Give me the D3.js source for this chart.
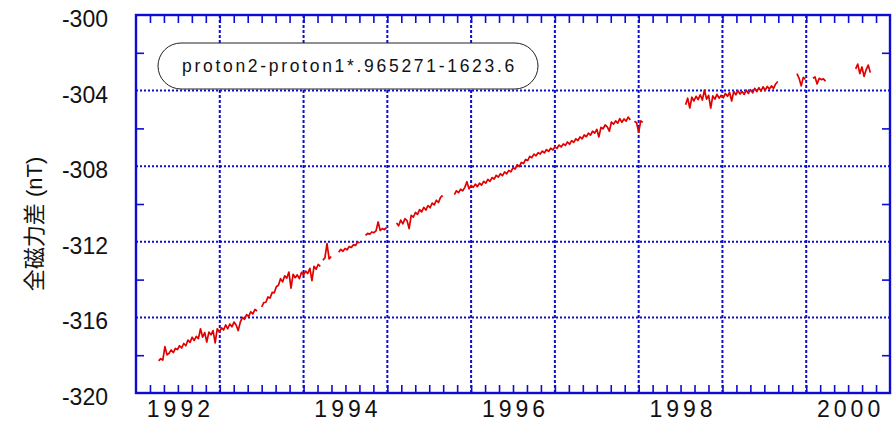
<!DOCTYPE html>
<html lang="ja">
<head>
<meta charset="utf-8">
<title>全磁力差</title>
<style type="text/css">
  body { margin: 0; background: #fff; }
  svg { display: block; font-family: "Liberation Sans", Arial, "Noto Sans CJK JP", sans-serif; }
</style>
</head>
<body>
<div id="chart"></div>
<script src="https://cdnjs.cloudflare.com/ajax/libs/d3/7.8.5/d3.min.js"></script>
<script type="text/javascript">
// daily-ish samples, one every 0.025 yr, split where the record has gaps
var step = 0.025;
var segStarts = [1991.77, 1993.00, 1993.73, 1993.92, 1994.24, 1994.61, 1995.30, 1997.45, 1998.06, 1999.39, 1999.58, 2000.09];

var seg1 = [-318.30, -318.18, -318.26, -317.55, -317.98, -317.90, -317.72, -317.86, -317.64, -317.70,
  -317.50, -317.62, -317.38, -317.50, -317.20, -317.32, -317.05, -317.22, -317.00, -317.12,
  -316.60, -317.05, -316.80, -317.30, -316.78, -316.92, -316.70, -317.35, -316.60, -316.78,
  -316.55, -316.66, -316.40, -316.60, -316.35, -316.50, -316.25, -316.40, -316.70, -316.25,
  -316.00, -316.10, -315.85, -315.95, -315.70, -315.82, -315.58, -315.66];
var seg2 = [-315.45, -315.22, -315.20, -314.92, -314.98, -314.68, -314.70, -314.38, -314.30, -313.95,
  -314.12, -313.80, -313.92, -313.60, -314.45, -313.72, -313.90, -313.75, -313.95, -313.62,
  -313.75, -313.55, -313.68, -313.40, -314.05, -313.30, -313.45, -313.20, -313.30];
var seg3 = [-312.98, -312.85, -312.10, -312.90, -312.78];
var seg4 = [-312.55, -312.40, -312.50, -312.35, -312.42, -312.25, -312.30, -312.15, -312.20, -312.02, -312.05];
var seg5 = [-311.66, -311.55, -311.60, -311.48, -311.52, -311.42, -310.95, -311.40, -311.30, -311.36, -311.25];
var seg6 = [-311.00, -311.15, -310.85, -311.05, -310.78, -310.88, -311.30, -310.60, -310.70, -310.45,
  -310.55, -310.30, -310.42, -310.18, -310.32, -310.08, -310.20, -309.95, -310.05, -309.80,
  -309.92, -309.65, -309.55];
var seg7 = [-309.50, -309.30, -309.40, -309.22, -309.30, -309.12, -308.82, -309.20, -309.02, -309.12,
  -308.95, -309.08, -308.90, -309.00, -308.80, -308.90, -308.70, -308.80, -308.60, -308.68,
  -308.48, -308.58, -308.40, -308.50, -308.30, -308.40, -308.22, -308.30, -308.08, -308.15,
  -307.92, -308.02, -307.80, -307.86, -307.64, -307.70, -307.48, -307.55, -307.36, -307.45,
  -307.28, -307.36, -307.20, -307.30, -307.12, -307.22, -307.05, -307.14, -306.98, -307.06,
  -306.88, -306.98, -306.82, -306.90, -306.72, -306.84, -306.65, -306.74, -306.55, -306.64,
  -306.45, -306.55, -306.35, -306.44, -306.25, -306.36, -306.15, -306.25, -306.05, -306.45,
  -305.95, -306.02, -305.82, -305.92, -306.15, -305.66, -305.78, -305.60, -305.72, -305.48,
  -305.68, -305.50, -305.62, -305.40, -305.55];
var seg8 = [-305.62, -305.70, -306.20, -305.60, -305.68];
var seg9 = [-304.75, -304.40, -304.92, -304.35, -304.55, -304.30, -304.48, -304.22, -304.50, -303.97,
  -304.45, -304.25, -304.92, -304.28, -304.45, -304.20, -304.40, -304.25, -304.38, -304.15,
  -304.30, -304.10, -304.55, -304.05, -304.22, -304.00, -304.18, -304.05, -304.20, -303.98,
  -304.15, -303.95, -304.12, -303.88, -304.05, -303.85, -304.02, -303.80, -303.98, -303.78,
  -303.92, -303.75, -303.88, -303.65, -303.52];
var seg10 = [-303.10, -303.35, -303.75, -303.30, -303.40];
var seg11 = [-303.35, -303.28, -303.65, -303.35, -303.42, -303.38, -303.50];
var seg12 = [-302.85, -302.60, -303.10, -302.75, -303.25, -302.90, -302.65, -303.05];
var segValues = [seg1, seg2, seg3, seg4, seg5, seg6, seg7, seg8, seg9, seg10, seg11, seg12];

var yLabels = [-320, -316, -312, -308, -304, -300];
var yGrid = [-316, -312, -308, -304];
var yMinor = [-318, -314, -310, -306, -302];
var xLabels = [1992, 1994, 1996, 1998, 2000];
var xGrid = [1992.5, 1993.5, 1994.5, 1995.5, 1996.5, 1997.5, 1998.5, 1999.5];
var legendText = "proton2-proton1*.965271-1623.6";
var yTitle = "全磁力差 (nT)";

var W = 896, H = 422;
var pL = 136, pR = 890, pT = 15, pB = 393;
var blue = "#0c0cd2";

var svg = d3.select("#chart").append("svg")
  .attr("width", W).attr("height", H);

var x = d3.scaleLinear().domain([1991.5, 2000.5]).range([pL, pR]);
var y = d3.scaleLinear().domain([-320, -300]).range([pB, pT]);

// grid
svg.append("g").selectAll("line").data(xGrid).enter().append("line")
  .attr("x1", d => x(d)).attr("x2", d => x(d))
  .attr("y1", pT).attr("y2", pB)
  .attr("stroke", blue).attr("stroke-width", 2).attr("stroke-dasharray", "3,2");
svg.append("g").selectAll("line").data(yGrid).enter().append("line")
  .attr("x1", pL).attr("x2", pR)
  .attr("y1", d => y(d)).attr("y2", d => y(d))
  .attr("stroke", blue).attr("stroke-width", 2).attr("stroke-dasharray", "2,2");

// data
var line = d3.line().x(d => x(d[0])).y(d => y(d[1]));
segValues.forEach(function (vals, k) {
  var pts = vals.map((v, i) => [segStarts[k] + i * step, v]);
  svg.append("path").datum(pts)
    .attr("d", line)
    .attr("fill", "none")
    .attr("stroke", "#e00000")
    .attr("stroke-width", 1.7)
    .attr("stroke-linejoin", "round");
});

// minor ticks on all four sides (pointing inward)
var xMinor = d3.range(1, 54).map(i => 1991.5 + i / 6);
function tickStyle(g) {
  g.select(".domain").remove();
  g.selectAll("line").attr("stroke", blue).attr("stroke-width", 1.6);
  g.selectAll("text").remove();
}
svg.append("g").attr("transform", "translate(0," + pB + ")")
  .call(d3.axisBottom(x).tickValues(xMinor).tickSize(-8).tickFormat("")).call(tickStyle);
svg.append("g").attr("transform", "translate(0," + pT + ")")
  .call(d3.axisTop(x).tickValues(xMinor).tickSize(-8).tickFormat("")).call(tickStyle);
svg.append("g").attr("transform", "translate(" + pL + ",0)")
  .call(d3.axisLeft(y).tickValues(yMinor).tickSize(-8).tickFormat("")).call(tickStyle);
svg.append("g").attr("transform", "translate(" + pR + ",0)")
  .call(d3.axisRight(y).tickValues(yMinor).tickSize(-8).tickFormat("")).call(tickStyle);

// frame
svg.append("rect")
  .attr("x", pL).attr("y", pT)
  .attr("width", pR - pL).attr("height", pB - pT)
  .attr("fill", "none").attr("stroke", blue).attr("stroke-width", 2.4);

// tick labels
var yAx = svg.append("g").attr("transform", "translate(" + pL + ",0)")
  .call(d3.axisLeft(y).tickValues(yLabels).tickSize(0).tickPadding(28).tickFormat(d => String(d)));
yAx.select(".domain").remove();
yAx.selectAll("text").attr("font-size", 23).attr("dy", "0.5em")
  .attr("fill", "#111").style("font-family", "'Liberation Sans', Arial, sans-serif");

var xAx = svg.append("g").attr("transform", "translate(0," + pB + ")")
  .call(d3.axisBottom(x).tickValues(xLabels).tickSize(0).tickPadding(8).tickFormat(d3.format("d")));
xAx.select(".domain").remove();
xAx.selectAll("text").attr("font-size", 23).attr("dx", 2)
  .attr("fill", "#111").style("letter-spacing", "4px")
  .style("font-family", "'Liberation Sans', Arial, sans-serif");

// y title
svg.append("text")
  .attr("transform", "translate(42,224) rotate(-90)")
  .attr("text-anchor", "middle")
  .attr("font-size", 22)
  .attr("fill", "#111")
  .text(yTitle);

// legend
svg.append("rect")
  .attr("x", 158).attr("y", 43).attr("width", 380).attr("height", 46)
  .attr("rx", 23).attr("ry", 23)
  .attr("fill", "#fff").attr("stroke", "#222").attr("stroke-width", 1);
svg.append("text")
  .attr("x", 182).attr("y", 72)
  .attr("font-size", 17.5)
  .attr("fill", "#111")
  .style("letter-spacing", "2.7px")
  .text(legendText);
</script>
</body>
</html>
